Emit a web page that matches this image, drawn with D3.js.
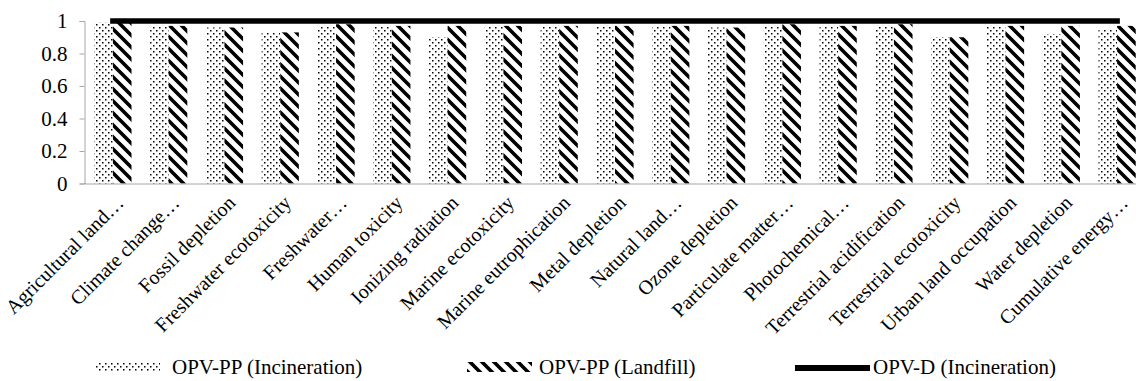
<!DOCTYPE html>
<html>
<head>
<meta charset="utf-8">
<script src="https://cdn.jsdelivr.net/npm/d3@7"></script>
</head>
<body style="margin:0">
<svg id="chart" width="1136" height="381"></svg>
<script>
const categories = [
  "Agricultural land…", "Climate change…", "Fossil depletion", "Freshwater ecotoxicity",
  "Freshwater…", "Human toxicity", "Ionizing radiation", "Marine ecotoxicity",
  "Marine eutrophication", "Metal depletion", "Natural land…", "Ozone depletion",
  "Particulate matter…", "Photochemical…", "Terrestrial acidification", "Terrestrial ecotoxicity",
  "Urban land occupation", "Water depletion", "Cumulative energy…"
];
const seriesNames = ["OPV-PP (Incineration)", "OPV-PP (Landfill)", "OPV-D (Incineration)"];
const incinerationPP = [0.99, 0.97, 0.96, 0.93, 0.97, 0.97, 0.90, 0.97, 0.97, 0.97, 0.97, 0.96, 0.97, 0.97, 0.97, 0.90, 0.97, 0.92, 0.95];
const landfillPP     = [1.00, 0.97, 0.96, 0.93, 0.98, 0.97, 0.97, 0.97, 0.97, 0.97, 0.97, 0.96, 0.98, 0.97, 0.98, 0.90, 0.97, 0.97, 0.97];
const incinerationD  = [1, 1, 1, 1, 1, 1, 1, 1, 1, 1, 1, 1, 1, 1, 1, 1, 1, 1, 1];
const yTicks = [0, 0.2, 0.4, 0.6, 0.8, 1];
const yTickLabels = ["0", "0.2", "0.4", "0.6", "0.8", "1"];

const FONT = '"Liberation Serif"';
const FSIZE = "21px";
const LABEL_SIZE = "20px";
const axisColor = "#a6a6a6";

const svg = d3.select("#chart");
function styleText(sel, size) {
  return sel.style("font-family", FONT).style("font-size", size || FSIZE).style("fill", "#000");
}

const x = d3.scaleBand().domain(categories).range([85, 1145]).padding(0);
const x1 = d3.scaleBand().domain([0, 1]).range([0, x.bandwidth()]).paddingOuter(0.5).paddingInner(0);
const y = d3.scaleLinear().domain([0, 1]).range([183.5, 21]);

// patterns
const defs = svg.append("defs");
const dots = defs.append("pattern").attr("id", "dots").attr("patternUnits", "userSpaceOnUse")
  .attr("width", 6).attr("height", 6);
dots.append("rect").attr("width", 6).attr("height", 6).attr("fill", "#fff");
dots.append("rect").attr("x", 0).attr("y", 0).attr("width", 1.5).attr("height", 1.5).attr("fill", "#000");
dots.append("rect").attr("x", 3).attr("y", 3).attr("width", 1.5).attr("height", 1.5).attr("fill", "#000");

const hatch = defs.append("pattern").attr("id", "hatch").attr("patternUnits", "userSpaceOnUse")
  .attr("width", 12).attr("height", 12);
hatch.append("rect").attr("width", 12).attr("height", 12).attr("fill", "#fff");
hatch.append("path").attr("d", "M-3,-3 L15,15 M-3,9 L3,15 M9,-3 L15,3")
  .attr("stroke", "#000").attr("stroke-width", 3.6);

// y axis
const yAxis = d3.axisLeft(y).tickValues(yTicks).tickFormat((d, i) => yTickLabels[i]).tickSize(5).tickPadding(12);
const gy = svg.append("g").attr("transform", "translate(84.5,0)").call(yAxis);
gy.attr("font-family", null).attr("font-size", null);
gy.select(".domain").attr("stroke", axisColor);
gy.selectAll(".tick line").attr("stroke", axisColor);
styleText(gy.selectAll(".tick text"));

// bars
const seriesData = [incinerationPP, landfillPP];
const fills = ["url(#dots)", "url(#hatch)"];
seriesData.forEach((vals, s) => {
  svg.append("g").selectAll("rect").data(categories).join("rect")
    .attr("x", (c) => x(c) + x1(s))
    .attr("y", (c, i) => y(vals[i]))
    .attr("width", x1.bandwidth())
    .attr("height", (c, i) => y(0) - y(vals[i]))
    .attr("fill", fills[s]);
});

// x axis
const xAxis = d3.axisBottom(x).tickSize(0).tickFormat("");
const gx = svg.append("g").attr("transform", `translate(0,${y(0)})`).call(xAxis);
gx.select(".domain").attr("stroke", axisColor);
svg.append("line").attr("x1", 84).attr("x2", 86).attr("y1", y(0)).attr("y2", y(0)).attr("stroke", axisColor);

// category labels
styleText(svg.selectAll("text.cat").data(categories).join("text")
  .attr("class", "cat")
  .attr("transform", (c) => `translate(${x(c) + x.bandwidth() / 2 + 12},204) rotate(-45)`)
  .attr("text-anchor", "end")
  .text((c) => c), LABEL_SIZE);

// line series
const line = d3.line().x((d, i) => x(categories[i]) + x.bandwidth() / 2).y((d) => y(d));
svg.append("path").datum(incinerationD).attr("d", line)
  .attr("fill", "none").attr("stroke", "#000").attr("stroke-width", 5.5).attr("stroke-linecap", "square");

// legend
const legY = 367;
svg.append("rect").attr("x", 95).attr("y", legY - 5).attr("width", 65).attr("height", 10).attr("fill", "url(#dots)");
styleText(svg.append("text").attr("x", 172).attr("y", legY).attr("dy", "0.35em").text(seriesNames[0]));
svg.append("rect").attr("x", 467).attr("y", legY - 5).attr("width", 65).attr("height", 10).attr("fill", "url(#hatch)");
styleText(svg.append("text").attr("x", 539).attr("y", legY).attr("dy", "0.35em").text(seriesNames[1]));
svg.append("line").attr("x1", 795).attr("x2", 870).attr("y1", legY + 1).attr("y2", legY + 1).attr("stroke", "#000").attr("stroke-width", 6);
styleText(svg.append("text").attr("x", 873).attr("y", legY).attr("dy", "0.35em").text(seriesNames[2]));
</script>
</body>
</html>
